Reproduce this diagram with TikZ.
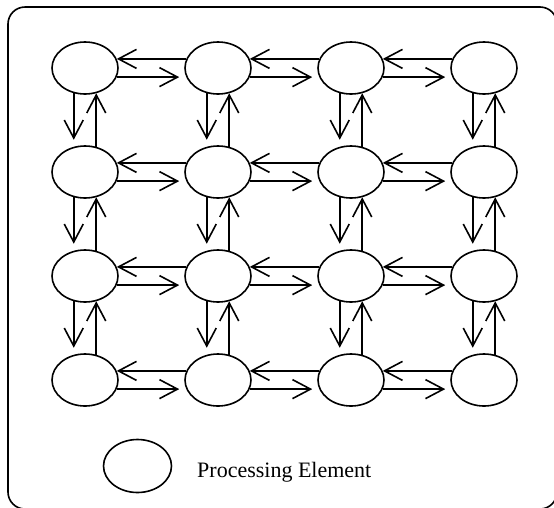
\documentclass[tikz,border=0pt]{standalone}
\usepackage{fontspec}
\setmainfont{Liberation Serif}
\usetikzlibrary{shapes.geometric,arrows.meta}
\begin{document}
\begin{tikzpicture}[x=1pt,y=-1pt,
  pe/.style={ellipse,draw,line width=1.6pt,minimum width=66pt,minimum height=52pt,inner sep=0pt},
  link/.style={line width=1.6pt,-{Straight Barb[length=18pt,width=19pt,line width=1.6pt]}},
  gap/.style={shorten >=7pt}]
  \useasboundingbox (0,0) rectangle (554,507);
  % outer frame, partly running past the page edge
  \begin{scope}
    \clip (0,0) rectangle (554,507);
    \draw[line width=1.6pt,rounded corners=17pt] (8,7) rectangle (557,509);
  \end{scope}
  % 4x4 grid of processing elements
  \foreach \r/\y in {1/68,2/172,3/276,4/380}{
    \foreach \c/\x in {1/85,2/218,3/351,4/484}{
      \node[pe] (n\r\c) at (\x,\y) {};
    }
  }
  % horizontal links between neighbours
  \foreach \r in {1,...,4}{
    \foreach \c/\d in {1/2,2/3,3/4}{
      \draw[link] (n\r\d.164) -- (n\r\c.16);
      \draw[link,gap] (n\r\c.-16) -- (n\r\d.196);
    }
  }
  % vertical links between neighbours
  \foreach \c in {1,...,4}{
    \foreach \r/\s in {1/2,2/3,3/4}{
      \draw[link,gap] (n\r\c.246) -- (n\s\c.114);
      \draw[link] (n\s\c.66) -- (n\r\c.294);
    }
  }
  % legend
  \node[pe,minimum width=68pt,minimum height=53pt] (key) at (137.5,466) {};
  \node[anchor=base west,font=\fontsize{22}{26}\selectfont,inner sep=0pt] (keytext) at (197,477) {Processing Element};
\end{tikzpicture}
\end{document}
